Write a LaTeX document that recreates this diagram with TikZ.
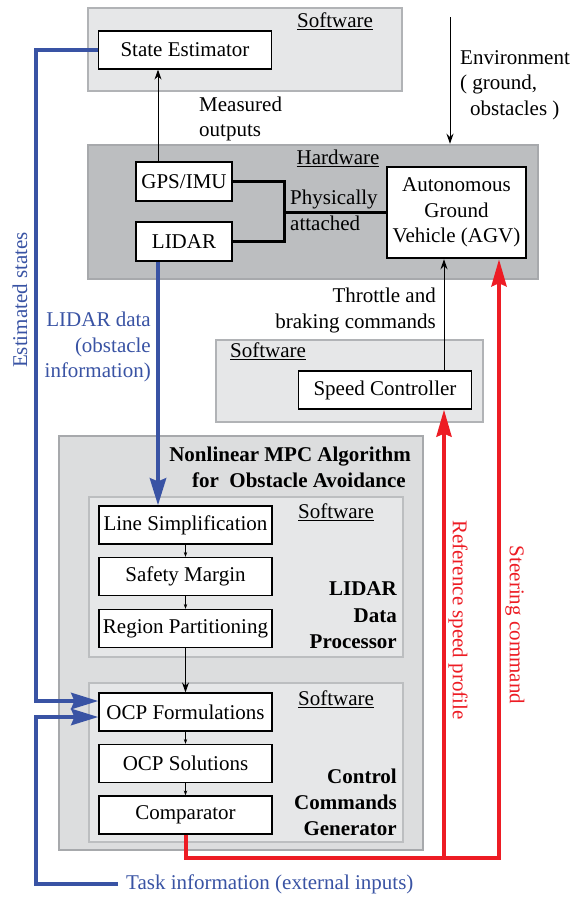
\documentclass[tikz,border=0pt]{standalone}
\usepackage{fontspec}
\setmainfont{Liberation Serif}
\usetikzlibrary{arrows.meta,calc}
\definecolor{myblue}{HTML}{3953A4}
\definecolor{myred}{HTML}{ED1C24}
\definecolor{swfill}{HTML}{E6E7E8}
\definecolor{swdraw}{HTML}{B1B3B6}
\definecolor{hwfill}{HTML}{BCBEC0}
\definecolor{hwdraw}{HTML}{A7A9AC}
\definecolor{mpcfill}{HTML}{DCDDDE}
\definecolor{innerdraw}{HTML}{BCBEC0}
\begin{document}
\begin{tikzpicture}[x=1pt,y=-1pt,
  font=\fontsize{21}{25.5}\selectfont,
  group/.style={draw=swdraw, fill=swfill, line width=2.5pt, inner sep=0pt},
  hwgroup/.style={draw=hwdraw, fill=hwfill, line width=2.5pt, inner sep=0pt},
  mpcgroup/.style={draw=hwdraw, fill=mpcfill, line width=2.5pt, inner sep=0pt},
  innergroup/.style={draw=innerdraw, fill=swfill, line width=1.5pt, inner sep=0pt},
  block/.style={draw, fill=white, line width=1.2pt, minimum width=173pt, minimum height=38pt, inner sep=0pt},
  hwblock/.style={draw, fill=white, line width=2.5pt, inner sep=0pt},
  lbl/.style={inner sep=0pt},
  blk/.style={line width=1pt, -{Stealth[length=10pt,width=7pt]}},
  tinyarr/.style={line width=0.8pt, -{Stealth[length=5pt,width=3.5pt]}},
  hwline/.style={line width=2.5pt},
  bluearr/.style={myblue, line width=4.5pt, line join=miter, -{Stealth[length=27pt,width=16pt,inset=3pt]}},
  redarr/.style={myred, line width=4pt, line join=miter, -{Stealth[length=27pt,width=15pt,inset=3pt]}}
]
\fill[white] (0,0) rectangle (574,898);
\useasboundingbox (0,0) rectangle (574,898);

% group boxes
\node[group, minimum width=314pt, minimum height=83pt] (topsw) at (245,49.5) {};
\node[hwgroup, minimum width=450pt, minimum height=134pt] (hw) at (313,212) {};
\node[group, minimum width=267pt, minimum height=82pt] (spsw) at (349.5,381) {};
\node[mpcgroup, minimum width=364pt, minimum height=414pt] (mpc) at (241,643) {};
\node[innergroup, minimum width=314pt, minimum height=160pt] (lp) at (246,577) {};
\node[innergroup, minimum width=314pt, minimum height=159pt] (ccg) at (246,762.5) {};

% group labels
\node[lbl] (l1) at (335,21) {\underline{Software}};
\node[lbl] (l2) at (338,158) {\underline{Hardware}};
\node[lbl] (l3) at (268,351) {\underline{Software}};
\node[lbl] (l4) at (336,512) {\underline{Software}};
\node[lbl] (l5) at (336,699) {\underline{Software}};

% blocks
\node[block] (SE) at (185,50) {State Estimator};
\node[hwblock, minimum width=96pt, minimum height=39pt] (GPS) at (184,181.5) {GPS/IMU};
\node[hwblock, minimum width=96pt, minimum height=39pt] (LIDAR) at (184,241.5) {LIDAR};
\node[hwblock, minimum width=139pt, minimum height=91pt, align=center] (AGV) at (456.5,212.5) {Autonomous\\Ground\\Vehicle (AGV)};
\node[block] (SpeedC) at (385,390) {Speed Controller};
\node[block] (LineS) at (185.5,525) {Line Simplification};
\node[block] (Safety) at (185.5,576.5) {Safety Margin};
\node[block] (Region) at (185.5,628.5) {Region Partitioning};
\node[block] (OCPF) at (185.5,712) {OCP Formulations};
\node[block] (OCPS) at (185.5,763.5) {OCP Solutions};
\node[block] (Comp) at (185.5,815) {Comparator};

% text labels
\node[lbl, anchor=west, align=left] (meas) at (199,119) {Measured\\outputs};
\node[lbl, anchor=west, align=left] (envt) at (460,85) {Environment\\( ground,\\\hspace*{10pt}obstacles )};
\node[lbl, anchor=west, align=left] (phys) at (290,210.5) {Physically\\attached};
\node[lbl, anchor=east, align=right] (thr) at (436,310.5) {Throttle and\\braking commands};
\node[lbl, anchor=east, align=right, text=myblue] (ldata) at (151,347) {LIDAR data\\(obstacle\\information)};
\node[lbl, rotate=90, text=myblue] (est) at (20,300) {Estimated states};
\node[lbl, anchor=east, align=right, font=\fontsize{21}{26}\selectfont\bfseries] (mpct) at (411,467) {Nonlinear MPC Algorithm\\for\ \ Obstacle Avoidance\hspace*{5pt}};
\node[lbl, anchor=east, align=right, font=\fontsize{21}{26.5}\selectfont\bfseries] (lpt) at (397,615.5) {LIDAR\\Data\\Processor};
\node[lbl, anchor=east, align=right, font=\fontsize{21}{26}\selectfont\bfseries] (ccgt) at (397,802) {Control\\Commands\\Generator};
\node[lbl, rotate=-90, text=myred] (refsp) at (458,620) {Reference speed profile};
\node[lbl, rotate=-90, text=myred] (steer) at (515,625) {Steering command};
\node[anchor=west, inner xsep=8pt, inner ysep=2pt, text=myblue] (task) at (118,884) {Task information (external inputs)};

% black connectors
\draw[blk] ([xshift=-26pt]GPS.north) -- ([xshift=-26pt]GPS.north |- SE.south);
\draw[hwline] (GPS.east) -- ++(51,0) coordinate (jt) |- (LIDAR.east);
\draw[hwline] (AGV.west) -- (AGV.west -| jt);
\coordinate (env) at (450,17);
\draw[blk] (env) -- (env |- hw.north);
\draw[blk] ([xshift=59pt]SpeedC.north) -- ([xshift=59pt]SpeedC.north |- AGV.south);
\draw[tinyarr] (LineS.south) -- (Safety.north);
\draw[tinyarr] (Safety.south) -- (Region.north);
\draw[blk] (Region.south) -- (OCPF.north);
\draw[tinyarr] (OCPF.south) -- (OCPS.north);
\draw[tinyarr] (OCPS.south) -- (Comp.north);

% blue connectors
\draw[bluearr] ([xshift=-26pt]LIDAR.south) -- ([xshift=-26pt]LIDAR.south |- LineS.north);
\coordinate (bl) at (36,701);
\draw[bluearr] (SE.west) -| (bl) -- (bl -| OCPF.west);
\coordinate (bl2) at (36,717);
\draw[bluearr] (task.west) -| (bl2) -- (bl2 -| OCPF.west);

% red connectors
\coordinate (rs) at (499,858);
\coordinate (rr) at (444,858);
\draw[redarr] (Comp.south) |- (rs) -- (rs |- AGV.south);
\draw[redarr] (rr) -- (rr |- SpeedC.south);
\end{tikzpicture}
\end{document}
